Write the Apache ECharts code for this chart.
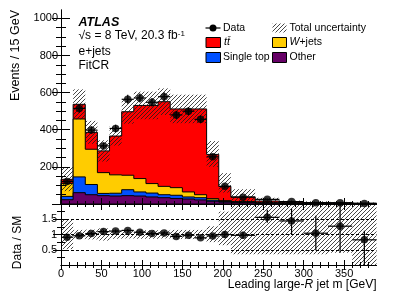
<!DOCTYPE html>
<html><head><meta charset="utf-8">
<script src="https://cdn.jsdelivr.net/npm/echarts@6/dist/echarts.min.js"></script>
<style>html,body{margin:0;padding:0;background:#fff}#c{width:407px;height:292px}</style>
</head><body><div id="c"></div>
<script>
// ---------------- data ----------------
const binEdges  = [0,15,30,45,60,75,90,105,120,135,150,165,180,195,210,240,270,300,330,360,390];
const other     = [23,61,50,45,43,45,43,38,34,30,27,22,15,10,7,4,2.5,2,1.5,1];
const singleTop = [18,85,55,12,15,32,22,21,16,17,11,12,6,4,3,1.5,1,0.8,0.5,0.4];
const wjets     = [70,312,190,112,99,78,72,51,45,41,27,16,8,4,3,1.5,1,0.7,0.5,0.4];
const ttbar     = [22,79,91,117,209,342,394,421,456,424,447,462,238,77,25,9,4.5,3.5,3,2.2];
const dataVals  = [121,515,398,313,407,564,571,548,578,480,500,456,254,95,37,25,13,7.3,7,3.3];
const dataErrUp = [11,23,20,18,20,24,24,23,24,22,22,21,16,10,4.3,4,3.6,4,4.5,1.2];
const dataErrDn = [11,23,20,18,20,24,24,23,24,22,22,21,16,10,4.3,2.9,3.9,3.9,4.8,3.4];
const uncUp     = [0.5,0.15,0.16,0.2,0.14,0.13,0.14,0.14,0.13,0.15,0.15,0.15,0.27,0.75,1.1,1.1,1.1,1.1,1.1,1.1];
const uncDn     = [0.48,0.15,0.16,0.2,0.14,0.13,0.14,0.14,0.13,0.15,0.15,0.15,0.25,0.35,0.65,0.65,0.65,0.65,0.6,1.0];
const xMajorTicks = [0,50,100,150,200,250,300,350];
const xMinorTicks = [10,20,30,40,60,70,80,90,110,120,130,140,160,170,180,190,210,220,230,240,260,270,280,290,310,320,330,340,360,370,380];
const yMainMajor  = [0,200,400,600,800,1000];
const yMainLabels = [200,400,600,800,1000];
const yMainMinor  = [50,100,150,250,300,350,450,500,550,650,700,750,850,900,950];
const yRatioMajor = [0.5,1,1.5];
const yRatioMinor = [0.25,0.75,1.25,1.75];
const dashedLevels = [0.5,1,1.5];

// --------------- derived ---------------
const FONT = "'Liberation Sans', Arial, Helvetica, sans-serif";
const nb = dataVals.length;
const cumOther = other.slice();
const cumTop = other.map((v,i)=>v+singleTop[i]);
const cumW = cumTop.map((v,i)=>v+wjets[i]);
const total = cumW.map((v,i)=>v+ttbar[i]);
const centers = dataVals.map((v,i)=>(binEdges[i]+binEdges[i+1])/2);
const ratio = dataVals.map((v,i)=>v/total[i]);
const ratioUp = dataErrUp.map((v,i)=>v/total[i]);
const ratioDn = dataErrDn.map((v,i)=>v/total[i]);
const layers = [
  {top: total, color:'#ff0000'},
  {top: cumW, color:'#ffcc00'},
  {top: cumTop, color:'#0050ff'},
  {top: cumOther, color:'#660066'}
];
const YMAX = 1045, RMIN = 0, RMAX = 2;

function makeHatch(){
  const s=4, cv=document.createElement('canvas'); cv.width=s; cv.height=s;
  const g=cv.getContext('2d'); g.strokeStyle='#1a1a1a'; g.lineWidth=0.8;
  g.beginPath();
  g.moveTo(0,s); g.lineTo(s,0);
  g.moveTo(-1,1); g.lineTo(1,-1);
  g.moveTo(s-1,s+1); g.lineTo(s+1,s-1);
  g.stroke();
  return cv;
}
const hatchCanvas = makeHatch();
const hatchFill = () => ({image: hatchCanvas, repeat: 'repeat'});
const plainNum = v => String(v);

// --------------- axes ---------------
function xax(grid, pos, ticks, len, labels, line){
  return {type:'value', gridIndex:grid, position:pos, min:0, max:390, z:10,
    axisLine:{show:!!line, lineStyle:{color:'#000', width:1}},
    splitLine:{show:false},
    axisTick:{show:true, inside:true, length:len, customValues:ticks, lineStyle:{color:'#000', width:1}},
    axisLabel: labels ? {show:true, customValues:labels, formatter:plainNum, fontSize:11, fontFamily:FONT, color:'#000', margin:3} : {show:false}};
}
function yax(grid, pos, min, max, ticks, len, labels, line, margin){
  return {type:'value', gridIndex:grid, position:pos, min:min, max:max, z:10,
    axisLine:{show:!!line, lineStyle:{color:'#000', width:1}},
    splitLine:{show:false},
    axisTick:{show:true, inside:true, length:len, customValues:ticks, lineStyle:{color:'#000', width:1}},
    axisLabel: labels ? {show:true, customValues:labels, formatter:plainNum, fontSize:11, fontFamily:FONT, color:'#000', margin:margin} : {show:false}};
}

// --------------- render functions ---------------
function renderStack(params, api){
  const L = layers[params.dataIndex];
  const pts=[api.coord([binEdges[0],0])];
  for(let i=0;i<nb;i++){
    pts.push(api.coord([binEdges[i],L.top[i]]));
    pts.push(api.coord([binEdges[i+1],L.top[i]]));
  }
  pts.push(api.coord([binEdges[nb],0]));
  return {type:'polygon', shape:{points:pts}, style:{fill:L.color, stroke:'#000', lineWidth:1}};
}
function renderBandMain(params, api){
  const i=params.dataIndex;
  const hi=Math.min(YMAX, total[i]*(1+uncUp[i])), lo=Math.max(0,total[i]*(1-uncDn[i]));
  const p1=api.coord([binEdges[i], hi]), p2=api.coord([binEdges[i+1], lo]);
  return {type:'rect', shape:{x:p1[0], y:p1[1], width:p2[0]-p1[0], height:p2[1]-p1[1]}, style:{fill:hatchFill()}};
}
function renderBandRatio(params, api){
  const i=params.dataIndex;
  const hi=Math.min(RMAX, 1+uncUp[i]), lo=Math.max(RMIN, 1-uncDn[i]);
  const p1=api.coord([binEdges[i], hi]), p2=api.coord([binEdges[i+1], lo]);
  return {type:'rect', shape:{x:p1[0], y:p1[1], width:p2[0]-p1[0], height:p2[1]-p1[1]}, style:{fill:hatchFill()}};
}
function errRenderer(vals, up, dn, lo, hi){
  return function(params, api){
    const i=params.dataIndex, c=centers[i], v=vals[i];
    const a=api.coord([binEdges[i], v]), b=api.coord([binEdges[i+1], v]);
    const t=api.coord([c, Math.min(hi, v+up[i])]), d=api.coord([c, Math.max(lo, v-dn[i])]);
    return {type:'group', children:[
      {type:'line', shape:{x1:a[0],y1:a[1],x2:b[0],y2:b[1]}, style:{stroke:'#000', lineWidth:1.2}},
      {type:'line', shape:{x1:t[0],y1:t[1],x2:d[0],y2:d[1]}, style:{stroke:'#000', lineWidth:1.2}}
    ]};
  };
}

const idx = dataVals.map((v,i)=>[i]);

// --------------- graphics (labels, legend) ---------------
function txt(x,y,text,size,opts){
  opts=opts||{};
  return {type:'text', x:x, y:y, rotation:opts.rotation||0, z:100,
    style:Object.assign({text:text, x:0, y:0, fill:'#000', fontSize:size, fontFamily:FONT,
      align:opts.align||'left', textAlign:opts.align||'left', verticalAlign:'middle', textVerticalAlign:'middle'}, opts.style||{})};
}
function box(x,y,w,h,fill){
  return {type:'rect', z:100, shape:{x:x,y:y,width:w,height:h}, style:{fill:fill, stroke:'#000', lineWidth:1}};
}
const graphics = [
  txt(78.5,23,'ATLAS',12.5,{style:{fontWeight:'bold', fontStyle:'italic'}}),
  txt(78.5,35.5,'√s = 8 TeV, 20.3 fb{s|-1}',12,{style:{rich:{s:{fontSize:8, verticalAlign:'top', fontFamily:FONT}}}}),
  txt(78.5,52,'e+jets',12),
  txt(78.5,66,'FitCR',12),
  // legend
  {type:'line', z:100, shape:{x1:205.5,y1:28,x2:220.5,y2:28}, style:{stroke:'#000', lineWidth:1.2}},
  {type:'circle', z:100, shape:{cx:213,cy:28,r:3.5}, style:{fill:'#000'}},
  txt(223,28,'Data',10.5),
  box(206,37.5,14.5,10,'#ff0000'),
  txt(224,42.5,'{i|tt\u0304}',10.5,{style:{rich:{i:{fontStyle:'italic', fontSize:10.5, fontFamily:FONT}}}}),
  box(206,52.5,14.5,10,'#0050ff'),
  txt(223,57.5,'Single top',10.5),
  {type:'rect', z:100, shape:{x:272.5,y:23.5,width:14,height:9}, style:{fill:hatchFill(), stroke:'#ffffff00'}},
  txt(289.5,28,'Total uncertainty',10.5),
  box(272.5,37.5,14,10,'#ffcc00'),
  txt(289.5,42.5,'{i|W}+jets',10.5,{style:{rich:{i:{fontStyle:'italic', fontSize:10.5, fontFamily:FONT}}}}),
  box(272.5,52.5,14,10,'#660066'),
  txt(289.5,57.5,'Other',10.5),
  // axis titles
  txt(16,10,'Events / 15 GeV',12.5,{align:'right', rotation:Math.PI/2}),
  txt(18,242.5,'Data / SM',12,{align:'center', rotation:Math.PI/2}),
  txt(376.5,284.5,'Leading large-{i|R} jet m [GeV]',12,{align:'right', style:{rich:{i:{fontStyle:'italic', fontSize:12, fontFamily:FONT}}}})
];

// --------------- chart ---------------
const chart = echarts.init(document.getElementById('c'), null, {renderer:'canvas'});
chart.setOption({
  animation:false,
  backgroundColor:'#fff',
  grid:[
    {left:61, top:10, width:315.5, height:194, show:false, containLabel:false, outerBoundsMode:'none'},
    {left:61, top:204, width:315.5, height:61, show:false, containLabel:false, outerBoundsMode:'none'}
  ],
  xAxis:[
    xax(0,'bottom',xMajorTicks,6,null,true),
    xax(0,'bottom',xMinorTicks,3,null,false),
    xax(0,'top',xMajorTicks,6,null,true),
    xax(0,'top',xMinorTicks,3,null,false),
    xax(1,'bottom',xMajorTicks,5,xMajorTicks,true),
    xax(1,'bottom',xMinorTicks,3,null,false),
    xax(1,'top',xMajorTicks,5,null,true),
    xax(1,'top',xMinorTicks,3,null,false)
  ],
  yAxis:[
    yax(0,'left',0,YMAX,yMainMajor,9,yMainLabels,true,3),
    yax(0,'left',0,YMAX,yMainMinor,5,null,false),
    yax(0,'right',0,YMAX,yMainMajor,9,null,true),
    yax(0,'right',0,YMAX,yMainMinor,5,null,false),
    yax(1,'left',RMIN,RMAX,yRatioMajor,8,yRatioMajor,true,4),
    yax(1,'left',RMIN,RMAX,yRatioMinor,4,null,false),
    yax(1,'right',RMIN,RMAX,yRatioMajor,8,null,true),
    yax(1,'right',RMIN,RMAX,yRatioMinor,4,null,false)
  ],
  series:[
    {type:'custom', xAxisIndex:0, yAxisIndex:0, data:layers.map((l,i)=>[i]), renderItem:renderStack, z:2, silent:true},
    {type:'custom', xAxisIndex:0, yAxisIndex:0, data:idx, renderItem:renderBandMain, z:3, silent:true},
    {type:'custom', xAxisIndex:0, yAxisIndex:0, data:idx, renderItem:errRenderer(dataVals,dataErrUp,dataErrDn,0,YMAX), z:4, silent:true},
    {type:'scatter', xAxisIndex:0, yAxisIndex:0, data:centers.map((c,i)=>[c,dataVals[i]]), symbol:'circle', symbolSize:7.5, itemStyle:{color:'#000'}, z:5, silent:true},
    {type:'custom', xAxisIndex:4, yAxisIndex:4, data:idx, renderItem:renderBandRatio, z:2, silent:true},
    {type:'custom', xAxisIndex:4, yAxisIndex:4, data:idx, renderItem:errRenderer(ratio,ratioUp,ratioDn,RMIN,RMAX), z:4, silent:true},
    {type:'scatter', xAxisIndex:4, yAxisIndex:4, data:centers.map((c,i)=>[c,ratio[i]]), symbol:'circle', symbolSize:7.5, itemStyle:{color:'#000'}, z:5, silent:true,
      markLine:{silent:true, symbol:'none', label:{show:false}, animation:false,
        lineStyle:{color:'#000', type:[3,2], width:1}, emphasis:{disabled:true},
        data:dashedLevels.map(v=>({yAxis:v}))}}
  ],
  graphic:graphics
});
</script></body></html>
